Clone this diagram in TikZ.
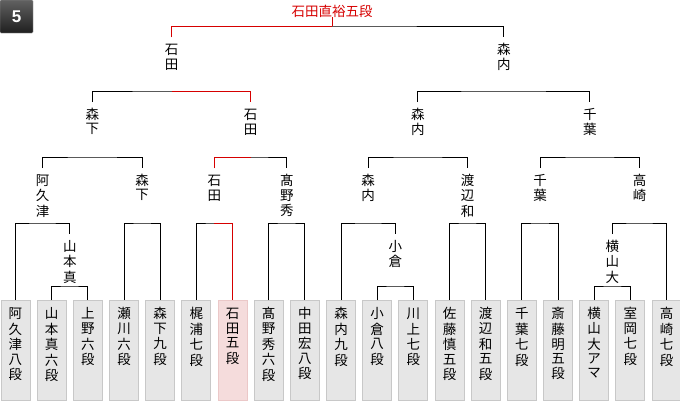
\documentclass[tikz,border=0pt]{standalone}
\usepackage{fontspec}
\setmainfont{Noto Sans CJK JP}
\newfontfamily\cifra{Liberation Sans}
\usetikzlibrary{positioning, calc}
\definecolor{tinta}{HTML}{000000}
\definecolor{rojo}{HTML}{D60000}
\definecolor{caja}{HTML}{E6E6E6}
\definecolor{borde}{HTML}{C8C8C8}
\definecolor{cajaroja}{HTML}{F5DCDC}
\definecolor{borderoja}{HTML}{EBC8C8}
\newcommand{\vtexto}[1]{\begin{tabular}[t]{@{}c@{}}#1\end{tabular}}
\tikzset{
  jugador/.style={rectangle, draw=borde, fill=caja, line width=1pt, anchor=north,
                  minimum width=29pt, inner sep=0pt, text height=18.2pt, text depth=81.3pt,
                  font=\fontsize{13.5}{14}\selectfont},
  jugadorr/.style={jugador, draw=borderoja, fill=cajaroja},
  nombre/.style={anchor=north, inner sep=0pt, text height=17.2pt,
                 font=\fontsize{13.5}{14}\selectfont},
  linea/.style={line width=1pt, color=tinta},
  linear/.style={line width=1pt, color=rojo},
  ronda/.style={rectangle, rounded corners=1pt, minimum size=33pt, inner sep=0pt,
                top color=black!62, bottom color=black!88, draw=black!35,
                text=white, font=\cifra\bfseries\fontsize{17}{17}\selectfont}
}

\begin{document}
\begin{tikzpicture}[x=1pt, y=-1pt]
  \useasboundingbox (0,0) rectangle (680,400);
  \node (num) [ronda] at (16.5,16.5) {5};
  \node (campeon) [anchor=base, inner sep=0pt, text=rojo,
                   font=\fontsize{13.5}{14}\selectfont] at (332,16) {石田直裕五段};

  % jugadores
  \foreach \i/\s/\t in {0/jugador/{阿\\久\\津\\八\\段}, 1/jugador/{山\\本\\真\\六\\段},
      2/jugador/{上\\野\\六\\段}, 3/jugador/{瀬\\川\\六\\段}, 4/jugador/{森\\下\\九\\段},
      5/jugador/{梶\\浦\\七\\段}, 6/jugadorr/{石\\田\\五\\段}, 7/jugador/{髙\\野\\秀\\六\\段},
      8/jugador/{中\\田\\宏\\八\\段}, 9/jugador/{森\\内\\九\\段}, 10/jugador/{小\\倉\\八\\段},
      11/jugador/{川\\上\\七\\段}, 12/jugador/{佐\\藤\\慎\\五\\段}, 13/jugador/{渡\\辺\\和\\五\\段},
      14/jugador/{千\\葉\\七\\段}, 15/jugador/{斎\\藤\\明\\五\\段}, 16/jugador/{横\\山\\大\\ア\\マ},
      17/jugador/{室\\岡\\七\\段}, 18/jugador/{高\\崎\\七\\段}}
    \node (p\i) [\s] at ({15.5+36.17*\i},300) {\vtexto{\t}};

  % ganadores
  \node (yamamoto) [nombre] at (69.75,234) {\vtexto{山\\本\\真}};
  \node (ogura) [nombre] at (395.3,234) {\vtexto{小\\倉}};
  \node (yokoyama) [nombre] at (612.3,234) {\vtexto{横\\山\\大}};
  \node (akutsu) [nombre] at (42.6,168) {\vtexto{阿\\久\\津}};
  \node (morishita) [nombre] at (142.1,168) {\vtexto{森\\下}};
  \node (ishida) [nombre] at (214.4,168) {\vtexto{石\\田}};
  \node (takano) [nombre] at (286.8,168) {\vtexto{髙\\野\\秀}};
  \node (moriuchi) [nombre] at (368.2,168) {\vtexto{森\\内}};
  \node (watanabe) [nombre] at (467.6,168) {\vtexto{渡\\辺\\和}};
  \node (chiba) [nombre] at (540,168) {\vtexto{千\\葉}};
  \node (takasaki) [nombre] at (639.5,168) {\vtexto{高\\崎}};
  \node (morishita2) [nombre] at (92.3,102) {\vtexto{森\\下}};
  \node (ishida2) [nombre] at (250.6,102) {\vtexto{石\\田}};
  \node (moriuchi2) [nombre] at (417.9,102) {\vtexto{森\\内}};
  \node (chiba2) [nombre] at (589.8,102) {\vtexto{千\\葉}};
  \node (ishida3) [nombre] at (171.5,37) {\vtexto{石\\田}};
  \node (moriuchi3) [nombre] at (503.8,37) {\vtexto{森\\内}};

  % cruces
  \coordinate (c-yamamoto) at (69.75,286);
  \coordinate (c-ogura) at (395.3,286);
  \coordinate (c-yokoyama) at (612.3,286);
  \coordinate (c-akutsu) at (42.6,223);
  \coordinate (c-morishita) at (142.1,223);
  \coordinate (c-ishida) at (214.4,223);
  \coordinate (c-takano) at (286.8,223);
  \coordinate (c-moriuchi) at (368.2,223);
  \coordinate (c-watanabe) at (467.6,223);
  \coordinate (c-chiba) at (540,223);
  \coordinate (c-takasaki) at (639.5,223);
  \coordinate (c-morishita2) at (92.3,157);
  \coordinate (c-ishida2) at (250.6,157);
  \coordinate (c-moriuchi2) at (417.9,157);
  \coordinate (c-chiba2) at (589.8,157);
  \coordinate (c-ishida3) at (171.5,91);
  \coordinate (c-moriuchi3) at (503.8,91);
  \coordinate (c-final) at (332,26);

  \draw [linea] (p1.north) |- (c-yamamoto) -| (p2.north);
  \draw [linea] (p10.north) |- (c-ogura) -| (p11.north);
  \draw [linea] (p16.north) |- (c-yokoyama) -| (p17.north);
  \draw [linea] (p0.north) |- (c-akutsu) -| (yamamoto.north);
  \draw [linea] (p3.north) |- (c-morishita) -| (p4.north);
  \draw [linea] (p5.north) |- (c-ishida) -| (p6.north);
  \draw [linea] (p7.north) |- (c-takano) -| (p8.north);
  \draw [linea] (p9.north) |- (c-moriuchi) -| (ogura.north);
  \draw [linea] (p12.north) |- (c-watanabe) -| (p13.north);
  \draw [linea] (p14.north) |- (c-chiba) -| (p15.north);
  \draw [linea] (yokoyama.north) |- (c-takasaki) -| (p18.north);
  \draw [linea] (akutsu.north) |- (c-morishita2) -| (morishita.north);
  \draw [linea] (ishida.north) |- (c-ishida2) -| (takano.north);
  \draw [linea] (moriuchi.north) |- (c-moriuchi2) -| (watanabe.north);
  \draw [linea] (chiba.north) |- (c-chiba2) -| (takasaki.north);
  \draw [linea] (morishita2.north) |- (c-ishida3) -| (ishida2.north);
  \draw [linea] (moriuchi2.north) |- (c-moriuchi3) -| (chiba2.north);
  \draw [linea] (ishida3.north) |- (c-final) -| (moriuchi3.north);

  % camino del campeon
  \draw [linear] (c-ishida) -| (p6.north);
  \draw [linear] (ishida.north) |- (c-ishida2);
  \draw [linear] (c-ishida3) -| (ishida2.north);
  \draw [linear] (ishida3.north) |- (c-final);
  \draw [linear] (campeon.south) -- (c-final);
\end{tikzpicture}
\end{document}
